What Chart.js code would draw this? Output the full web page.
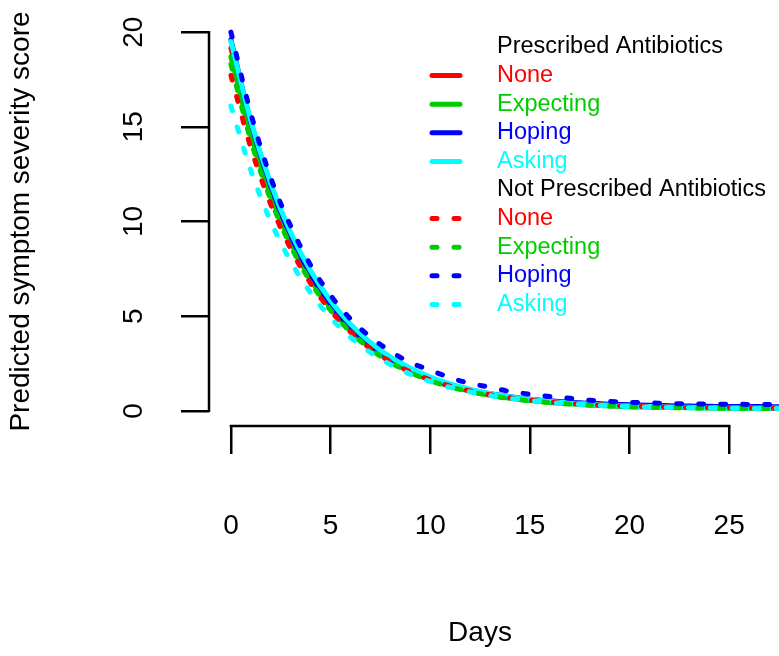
<!DOCTYPE html>
<html>
<head>
<meta charset="utf-8">
<title>Predicted symptom severity score</title>
<script src="https://cdn.jsdelivr.net/npm/chart.js@4/dist/chart.umd.min.js"></script>
<style>
    body { margin: 0; background: #ffffff; }
    #chart { display: block; }
</style>
</head>
<body>
<canvas id="chart" width="779" height="656"></canvas>
<script>
// values, one per day
const days = [0, 1, 2, 3, 4, 5, 6, 7, 8, 9, 10, 11, 12, 13, 14, 15, 16, 17, 18, 19, 20, 21, 22, 23, 24, 25, 26, 27, 28];

const prescribedNone      = [19.15, 14.95, 11.67, 9.13, 7.14, 5.59, 4.39, 3.45, 2.72, 2.15, 1.71, 1.36, 1.10, 0.89, 0.72, 0.60, 0.50, 0.42, 0.36, 0.32, 0.28, 0.25, 0.23, 0.21, 0.20, 0.19, 0.18, 0.17, 0.17];
const prescribedExpecting = [18.70, 14.59, 11.38, 8.89, 6.94, 5.43, 4.25, 3.33, 2.62, 2.06, 1.63, 1.29, 1.03, 0.82, 0.66, 0.54, 0.44, 0.37, 0.31, 0.26, 0.22, 0.20, 0.18, 0.16, 0.15, 0.14, 0.13, 0.12, 0.12];
const prescribedHoping    = [19.60, 15.23, 11.85, 9.23, 7.20, 5.62, 4.40, 3.46, 2.72, 2.16, 1.72, 1.37, 1.11, 0.90, 0.75, 0.62, 0.53, 0.45, 0.40, 0.35, 0.32, 0.29, 0.27, 0.25, 0.24, 0.23, 0.23, 0.22, 0.22];
const prescribedAsking    = [19.52, 15.30, 12.00, 9.42, 7.40, 5.82, 4.58, 3.61, 2.85, 2.26, 1.79, 1.43, 1.15, 0.92, 0.75, 0.61, 0.50, 0.42, 0.36, 0.30, 0.26, 0.23, 0.21, 0.19, 0.17, 0.16, 0.15, 0.15, 0.14];

const notPrescribedNone      = [17.72, 13.90, 10.90, 8.56, 6.73, 5.29, 4.17, 3.29, 2.60, 2.06, 1.64, 1.31, 1.05, 0.85, 0.69, 0.57, 0.47, 0.39, 0.33, 0.29, 0.25, 0.22, 0.20, 0.18, 0.17, 0.16, 0.15, 0.14, 0.14];
const notPrescribedExpecting = [18.30, 14.27, 11.14, 8.70, 6.80, 5.31, 4.16, 3.26, 2.56, 2.02, 1.59, 1.26, 1.01, 0.81, 0.65, 0.53, 0.43, 0.36, 0.30, 0.26, 0.22, 0.19, 0.17, 0.16, 0.15, 0.13, 0.13, 0.12, 0.12];
const notPrescribedHoping    = [20.00, 15.70, 12.30, 9.75, 7.69, 6.10, 4.85, 3.90, 3.15, 2.55, 2.15, 1.75, 1.45, 1.25, 1.02, 0.88, 0.76, 0.66, 0.56, 0.50, 0.45, 0.42, 0.39, 0.37, 0.36, 0.35, 0.34, 0.33, 0.32];
const notPrescribedAsking    = [16.10, 12.69, 10.00, 7.89, 6.23, 4.92, 3.89, 3.08, 2.45, 1.94, 1.55, 1.24, 1.00, 0.81, 0.66, 0.54, 0.44, 0.37, 0.31, 0.27, 0.23, 0.20, 0.18, 0.16, 0.15, 0.14, 0.13, 0.12, 0.12];

const groupLabels = ["Prescribed Antibiotics", "Not Prescribed Antibiotics"];
const seriesNames = ["None", "Expecting", "Hoping", "Asking"];
const xTicks = [0, 5, 10, 15, 20, 25];
const yTicks = [0, 5, 10, 15, 20];

const seriesColors = ["#ff0000", "#00cd00", "#0000ff", "#00ffff"];
const dashPattern = [5, 17];
const FONT = '"Liberation Sans", Arial, sans-serif';

const groups = [
    [prescribedNone, prescribedExpecting, prescribedHoping, prescribedAsking],
    [notPrescribedNone, notPrescribedExpecting, notPrescribedHoping, notPrescribedAsking]
];

function toPoints(values) {
    return values.map((v, i) => ({ x: days[i], y: v }));
}

const datasets = [];
groups.forEach((group, g) => {
    group.forEach((values, i) => {
        datasets.push({
            label: `${groupLabels[g]} - ${seriesNames[i]}`,
            data: toPoints(values),
            borderColor: seriesColors[i],
            borderWidth: 5,
            borderDash: g === 1 ? dashPattern : [],
            borderCapStyle: "round",
            borderJoinStyle: "round",
            pointRadius: 0,
            cubicInterpolationMode: "monotone",
            fill: false,
            // dashed group drawn on top, Asking last
            order: g === 1 ? 3 - i : 7 - i
        });
    });
});

// R style axes, tick labels, titles and legend
const rStyle = {
    id: "rStyle",
    afterDraw(chart) {
        const ctx = chart.ctx;
        const xs = chart.scales.x;
        const ys = chart.scales.y;
        const area = chart.chartArea;

        ctx.save();
        ctx.strokeStyle = "#000";
        ctx.lineWidth = 2.5;
        ctx.lineCap = "square";
        ctx.beginPath();
        ctx.moveTo(area.left, ys.getPixelForValue(yTicks[0]));
        ctx.lineTo(area.left, ys.getPixelForValue(yTicks[yTicks.length - 1]));
        ctx.moveTo(xs.getPixelForValue(xTicks[0]), area.bottom);
        ctx.lineTo(xs.getPixelForValue(xTicks[xTicks.length - 1]), area.bottom);
        ctx.stroke();

        ctx.fillStyle = "#000";
        ctx.font = "28px " + FONT;
        ctx.textAlign = "center";
        ctx.textBaseline = "middle";
        xTicks.forEach(v => ctx.fillText(String(v), xs.getPixelForValue(v), 526));
        yTicks.forEach(v => {
            ctx.save();
            ctx.translate(134, ys.getPixelForValue(v));
            ctx.rotate(-Math.PI / 2);
            ctx.fillText(String(v), 0, 0);
            ctx.restore();
        });

        ctx.fillText("Days", 480, 633);
        ctx.save();
        ctx.translate(21, (area.top + area.bottom) / 2);
        ctx.rotate(-Math.PI / 2);
        ctx.fillText("Predicted symptom severity score", 0, 0);
        ctx.restore();

        // legend
        ctx.font = "23.5px " + FONT;
        ctx.textAlign = "left";
        const rowH = 28.6;
        let row = 0;
        groups.forEach((group, g) => {
            const top = 47 + row * rowH;
            ctx.fillStyle = "#000";
            ctx.fillText(groupLabels[g], 497, top);
            row++;
            group.forEach((values, i) => {
                const ds = chart.data.datasets[g * 4 + i];
                const yy = 47 + row * rowH;
                ctx.strokeStyle = ds.borderColor;
                ctx.lineWidth = ds.borderWidth;
                ctx.lineCap = "round";
                ctx.setLineDash(ds.borderDash);
                ctx.beginPath();
                ctx.moveTo(432, yy);
                ctx.lineTo(g === 1 ? 462 : 460, yy);
                ctx.stroke();
                ctx.setLineDash([]);
                ctx.fillStyle = ds.borderColor;
                ctx.fillText(seriesNames[i], 497, yy);
                row++;
            });
        });
        ctx.restore();
    }
};

const tickGrid = {
    display: true,
    drawOnChartArea: false,
    drawTicks: true,
    tickLength: 28,
    color: "#000",
    lineWidth: 2.5
};

new Chart(document.getElementById("chart"), {
    type: "line",
    data: { datasets: datasets },
    options: {
        responsive: false,
        animation: false,
        layout: { padding: { top: 17, right: 0, bottom: 0, left: 0 } },
        plugins: {
            legend: { display: false },
            tooltip: { enabled: false }
        },
        scales: {
            x: {
                type: "linear",
                min: -1.1,
                max: 27.5,
                grid: tickGrid,
                border: { display: false },
                ticks: { display: false },
                afterBuildTicks: (scale) => { scale.ticks = xTicks.map(v => ({ value: v })); },
                afterFit: (scale) => { scale.height = 230; }
            },
            y: {
                type: "linear",
                min: -0.8,
                max: 20.8,
                grid: tickGrid,
                border: { display: false },
                ticks: { display: false },
                afterBuildTicks: (scale) => { scale.ticks = yTicks.map(v => ({ value: v })); },
                afterFit: (scale) => { scale.width = 209; }
            }
        }
    },
    plugins: [rStyle]
});
</script>
</body>
</html>
